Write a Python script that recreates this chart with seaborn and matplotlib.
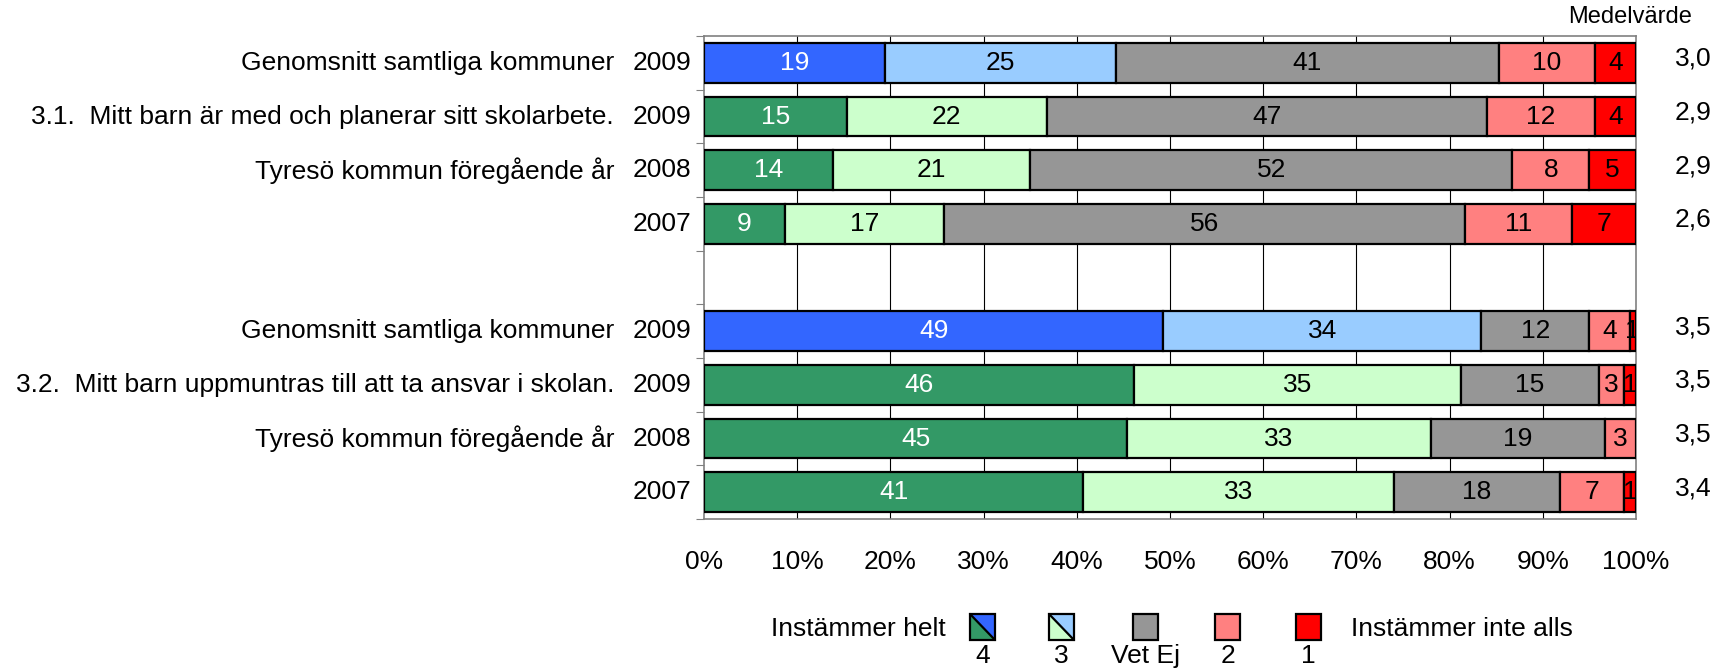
import matplotlib
matplotlib.use('Agg')
import matplotlib.pyplot as plt
import seaborn as sns
import numpy as np
from matplotlib.patches import Rectangle, Polygon

# ---- data (percent per answer category) ----
groups = ['Genomsnitt samtliga kommuner', '3.1.  Mitt barn är med och planerar sitt skolarbete.',
          'Tyresö kommun föregående år', '', '',
          'Genomsnitt samtliga kommuner', '3.2.  Mitt barn uppmuntras till att ta ansvar i skolan.',
          'Tyresö kommun föregående år', '']
years = ['2009', '2009', '2008', '2007', '', '2009', '2009', '2008', '2007']
is_avg = [True, False, False, False, False, True, False, False, False]

v4 = [19.4, 15.3, 13.8, 8.7, 0, 49.3, 46.1, 45.4, 40.7]
v3 = [24.8, 21.5, 21.2, 17.1, 0, 34.1, 35.1, 32.6, 33.3]
vet_ej = [41.1, 47.2, 51.7, 55.9, 0, 11.6, 14.8, 18.7, 17.8]
v2 = [10.3, 11.6, 8.3, 11.4, 0, 4.3, 2.7, 3.3, 6.9]
v1 = [4.4, 4.4, 5.0, 6.9, 0, 0.7, 1.3, 0.0, 1.3]
medel = ['3,0', '2,9', '2,9', '2,6', '', '3,5', '3,5', '3,5', '3,4']

x_ticks = [0, 10, 20, 30, 40, 50, 60, 70, 80, 90, 100]
legend_labels = ['4', '3', 'Vet Ej', '2', '1']

# colours
blue, lblue = '#3366FF', '#99CCFF'
green, lgreen = '#339966', '#CCFFCC'
grey, pink, red = '#969696', '#FF8080', '#FF0000'

sns.set_style('white')
plt.rcParams['font.family'] = ['Liberation Sans', 'DejaVu Sans']
plt.rcParams['text.color'] = 'black'
plt.rcParams['xtick.color'] = 'black'
FS = 19

fig = plt.figure(figsize=(17.34, 6.69), dpi=100)
ax = fig.add_axes([0.406, 0.224, 0.5375, 0.722])

series = [v4, v3, vet_ej, v2, v1]
pos = np.arange(len(years))
left = np.zeros(len(years))
for k, vals in enumerate(series):
    vals = np.array(vals)
    for i in pos:
        if vals[i] <= 0:
            continue
        if k == 0:
            c = blue if is_avg[i] else green
        elif k == 1:
            c = lblue if is_avg[i] else lgreen
        else:
            c = [None, None, grey, pink, red][k]
        ax.barh(i, vals[i], left=left[i], height=0.74, color=c,
                edgecolor='black', linewidth=1.6, zorder=3)
        tc = 'white' if k == 0 else 'black'
        ax.text(left[i] + vals[i] / 2, i, f'{round(vals[i]):.0f}', ha='center',
                va='center', fontsize=FS, color=tc, zorder=4, clip_on=True)
    left += vals

ax.set_xlim(0, 100)
ax.set_ylim(len(years) - 0.5, -0.5)
ax.set_xticks(x_ticks)
ax.set_xticklabels([f'{t}%' for t in x_ticks], fontsize=FS)
ax.tick_params(axis='x', length=0, pad=22, labelcolor='black')
for t in x_ticks[1:-1]:
    ax.axvline(t, color='black', linewidth=0.8, zorder=1)

ax.set_yticks(np.arange(len(years) + 1) - 0.5)
ax.set_yticklabels([])
ax.tick_params(axis='y', which='major', direction='out', length=6, color='#808080', left=True)
for s in ax.spines.values():
    s.set_color('#808080')
    s.set_linewidth(1.2)

# row labels
trans = ax.get_yaxis_transform()
for i in pos:
    if groups[i]:
        ax.annotate(groups[i], xy=(0, i), xycoords=trans, xytext=(-90, 0),
                    textcoords='offset pixels', ha='right', va='center', fontsize=FS)
    if years[i]:
        ax.annotate(years[i], xy=(0, i), xycoords=trans, xytext=(-13, 0),
                    textcoords='offset pixels', ha='right', va='center', fontsize=FS)
    if medel[i]:
        ax.annotate(medel[i], xy=(1, i), xycoords=trans, xytext=(57, 4),
                    textcoords='offset pixels', ha='center', va='center', fontsize=FS)
fig.text(1630 / 1734, 1 - 17 / 669, 'Medelvärde', ha='center', va='center', fontsize=FS - 2)

# legend at the bottom
W, H = 1734, 669
sq_w, sq_h = 25, 26
sq_x = [970, 1049, 1133, 1215, 1296]
sq_y = H - 640
fills = [(green, blue), (lgreen, lblue), (grey, grey), (pink, pink), (red, red)]
for x0, (c_lo, c_hi), lab in zip(sq_x, fills, legend_labels):
    x0f, y0f = x0 / W, sq_y / H
    wf, hf = sq_w / W, sq_h / H
    if c_lo != c_hi:
        fig.patches.append(Polygon([(x0f, y0f), (x0f, y0f + hf), (x0f + wf, y0f)],
                                   closed=True, facecolor=c_lo, edgecolor='none',
                                   transform=fig.transFigure))
        fig.patches.append(Polygon([(x0f, y0f + hf), (x0f + wf, y0f + hf), (x0f + wf, y0f)],
                                   closed=True, facecolor=c_hi, edgecolor='none',
                                   transform=fig.transFigure))
        fig.lines.append(plt.Line2D([x0f, x0f + wf], [y0f + hf, y0f], color='black',
                                    linewidth=1.6, transform=fig.transFigure))
        fig.patches.append(Rectangle((x0f, y0f), wf, hf, facecolor='none', edgecolor='black',
                                     linewidth=1.6, transform=fig.transFigure))
    else:
        fig.patches.append(Rectangle((x0f, y0f), wf, hf, facecolor=c_lo, edgecolor='black',
                                     linewidth=1.6, transform=fig.transFigure))
    fig.text((x0 + sq_w / 2) / W, 1 - 656 / H, lab, ha='center', va='center', fontsize=FS)

fig.text(946 / W, 1 - 629 / H, 'Instämmer helt', ha='right', va='center', fontsize=FS)
fig.text(1351 / W, 1 - 629 / H, 'Instämmer inte alls', ha='left', va='center', fontsize=FS)

plt.savefig('out.png', dpi=100)
plt.close()
